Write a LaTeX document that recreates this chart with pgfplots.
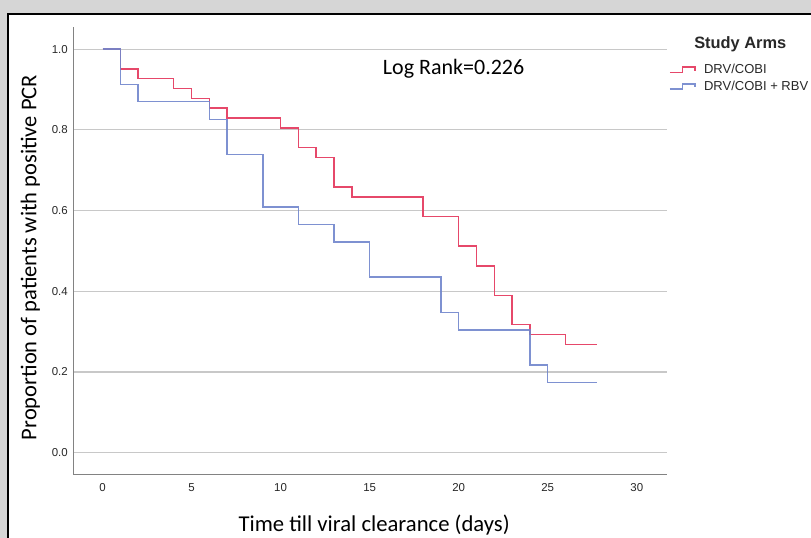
\documentclass[border=0pt]{standalone}
\usepackage{pgfplots}
\pgfplotsset{compat=1.18}
\usepackage{fontspec}
\setmainfont{Liberation Sans}
\newfontfamily\calibri{Carlito}

\definecolor{kmred}{RGB}{230,72,106}
\definecolor{kmblue}{RGB}{112,134,204}
\definecolor{bggray}{RGB}{214,214,214}
\definecolor{gridgray}{RGB}{200,200,200}
\definecolor{axisgray}{RGB}{130,130,130}
\definecolor{txtgray}{RGB}{40,40,40}

\begin{document}
\begin{tikzpicture}
\path[use as bounding box] (0,0) rectangle (608.25pt,403.5pt);
\fill[bggray] (0,0) rectangle (608.25pt,403.5pt);
\fill[white] (6.2pt,-10pt) rectangle (620pt,393pt);
\draw[black, line width=1.5pt] (6.2pt,-10pt) -- (6.2pt,393pt) -- (620pt,393pt);

\begin{axis}[
    at={(55pt,47.8pt)}, anchor=south west,
    scale only axis,
    width=445pt, height=335.3pt,
    xmin=-1.64, xmax=31.68,
    ymin=-0.0535, ymax=1.0545,
    axis x line*=bottom, axis y line*=left,
    axis line style={draw=axisgray, line width=0.9pt},
    xtick={0,5,...,30},
    ytick={0,0.2,0.4,0.6,0.8,1.0},
    major tick length=0pt,
    ymajorgrids,
    grid style={gridgray, line width=0.9pt},
    ticklabel style={font=\fontsize{8.6}{10}\selectfont, text=txtgray},
    /pgf/number format/assume math mode=true,
    yticklabel style={/pgf/number format/.cd, fixed, fixed zerofill, precision=1, /tikz/.cd, inner sep=0pt, anchor=east, xshift=-4pt},
    xticklabel style={inner sep=0pt, anchor=north, yshift=-7pt},
    xlabel={Time till viral clearance (days)},
    ylabel={Proportion of patients with positive PCR},
    every axis x label/.style={at={([yshift=-38pt]axis description cs:0.507,0)}, anchor=center, font=\calibri\fontsize{17}{19}\selectfont, text=black},
    every axis y label/.style={at={([xshift=-32.2pt]axis description cs:0,0.485)}, rotate=90, anchor=center, font=\calibri\fontsize{16.9}{19}\selectfont, text=black},
    legend style={draw=none, fill=none, at={(1,1)}, anchor=north west,
        xshift=1.7pt, yshift=-27.8pt, inner sep=0pt,
        font=\fontsize{9.75}{11}\selectfont, text=txtgray,
        nodes={inner sep=0pt, text height=7pt, text depth=2pt},
        column sep=6.3pt, row sep=3.5pt},
    legend cell align=left,
    legend image code/.code={
        \draw[#1, line width=1.1pt] (0pt,-1.3pt) -- (9.5pt,-1.3pt) -- (9.5pt,2.5pt) -- (18.75pt,2.5pt) -- (18.75pt,0pt);
    },
]
\addplot[const plot, kmred, line width=1.1pt] coordinates {
    (0,1.000) (1,0.951) (2,0.927) (4,0.902) (5,0.878) (6,0.854) (7,0.829)
    (10,0.805) (11,0.756) (12,0.732) (13,0.659) (14,0.634) (18,0.585)
    (20,0.512) (21,0.463) (22,0.390) (23,0.317) (24,0.293) (26,0.268)
    (27.75,0.268)
};
\addplot[const plot, kmblue, line width=1.1pt, opacity=0.9] coordinates {
    (0,1.000) (1,0.913) (2,0.870) (6,0.826) (7,0.739) (9,0.609) (11,0.565)
    (13,0.522) (15,0.435) (19,0.348) (20,0.304) (24,0.217) (25,0.174)
    (27.75,0.174)
};
\legend{DRV/COBI, DRV/COBI + RBV}
\end{axis}

\node[anchor=base west, inner sep=0pt, font=\bfseries\fontsize{12.3}{14}\selectfont, text=txtgray] at (520.5pt,367.3pt) {Study Arms};
\node[anchor=base west, inner sep=0pt, font=\calibri\fontsize{16.5}{19}\selectfont] at (287pt,347.25pt) {Log Rank=0.226};
\end{tikzpicture}
\end{document}
